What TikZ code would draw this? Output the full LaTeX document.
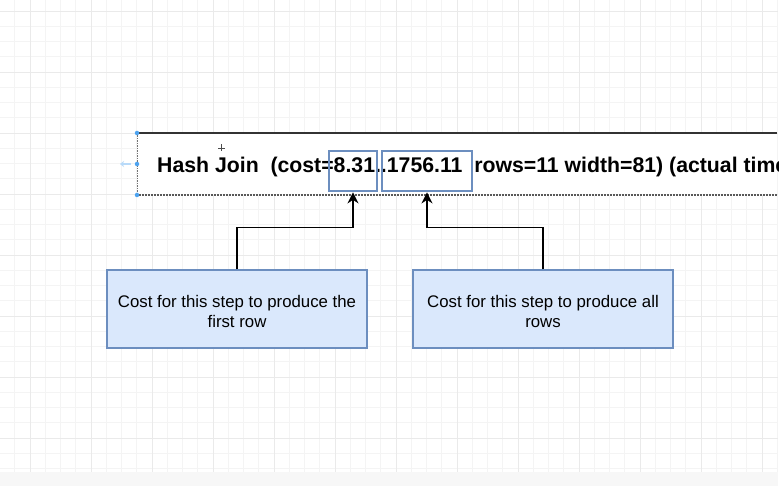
\documentclass[tikz,border=0pt]{standalone}
\usepackage{fontspec}
\setmainfont{Liberation Sans}
\usetikzlibrary{arrows.meta}
\definecolor{gridminor}{HTML}{F4F4F4}
\definecolor{gridmajor}{HTML}{EAEAEA}
\definecolor{bluefill}{HTML}{DAE8FC}
\definecolor{bluedraw}{HTML}{6C8EBF}
\definecolor{handle}{HTML}{4DA3F0}
\tikzset{
  hlbox/.style={draw=bluedraw, line width=2.8pt, minimum width=48pt, minimum height=40pt, inner sep=0pt},
  notebox/.style={draw=bluedraw, fill=bluefill, line width=1.2pt, minimum width=260pt, minimum height=78pt, inner sep=0pt},
  notetext/.style={align=center, font=\fontsize{16.8}{20.5}\selectfont, inner sep=0pt},
  conn/.style={draw=black, line width=1.6pt, -{Stealth[length=11pt,width=11pt,inset=3.5pt]}},
  selhandle/.style={circle, fill=handle, inner sep=0pt, minimum size=4.5pt}
}
\begin{document}
\begin{tikzpicture}[x=1pt,y=-1pt]
\useasboundingbox (0,0) rectangle (781,486);
\fill[white] (0,0) rectangle (781,486);
% grid
\foreach \i in {0,...,51} {
  \pgfmathsetmacro{\xx}{-0.5+15.25*\i}
  \draw[gridminor, line width=0.8pt] (\xx,0) -- (\xx,486);
}
\foreach \i in {0,...,32} {
  \pgfmathsetmacro{\yy}{11+15.25*\i}
  \draw[gridminor, line width=0.8pt] (0,\yy) -- (781,\yy);
}
\foreach \i in {0,...,12} {
  \pgfmathsetmacro{\xx}{30+61*\i}
  \draw[gridmajor, line width=0.9pt] (\xx,0) -- (\xx,486);
}
\foreach \i in {0,...,7} {
  \pgfmathsetmacro{\yy}{11+61*\i}
  \draw[gridmajor, line width=0.9pt] (0,\yy) -- (781,\yy);
}
\fill[white] (778,0) rectangle (781,486);
\fill[white!97!black] (0,472) rectangle (778,486);
% main box
\fill[white] (137,133) rectangle (777,195);
\coordinate (tl) at (137,133);
\coordinate (tr) at (777,133);
\coordinate (bl) at (137,195);
\coordinate (br) at (777,195);
\coordinate (ml) at (137,164);
\draw[black!80, line width=1.6pt] (tl) -- (tr);
\draw[black!65, line width=1.2pt, dash pattern=on 1pt off 0.5pt] (bl) -- (br);
\draw[black!55, line width=0.8pt, dash pattern=on 1.5pt off 1pt] (tl) -- (bl);
\begin{scope}
\clip (0,0) rectangle (778,486);
\node[anchor=base west, inner sep=0pt, font=\bfseries\fontsize{21.25}{25}\selectfont] (title) at (157,173)
  {Hash Join\ \ (cost=8.31..1756.11\ \ rows=11 width=81) (actual time};
\end{scope}
% highlight boxes
\node[hlbox] (h1) at (353,171) {};
\node[hlbox, minimum width=90pt] (h2) at (427,171) {};
% selection handles
\node[selhandle] (s1) at (tl) {};
\node[selhandle] (s2) at (ml) {};
\node[selhandle] (s3) at (bl) {};
\draw[handle!40, line width=1.5pt, -{Stealth[length=4pt,width=6pt]}] (131,164) -- (120,164);
% cursor
\draw[black!70, line width=0.7pt] (218,148) -- (225,148) (221.5,144.5) -- (221.5,151.5);
% note boxes
\node[notebox] (nA) at (237,309) {};
\node[notetext] (tA) at (237,311.5) {Cost for this step to produce the\\first row};
\node[notebox] (nB) at (543,309) {};
\node[notetext] (tB) at (543,311.5) {Cost for this step to produce all\\rows};
% connectors
\draw[conn] (nA.north) -- ++(0,-42) -| (h1.south);
\draw[conn] (nB.north) -- ++(0,-42) -| (h2.south);
\end{tikzpicture}
\end{document}
